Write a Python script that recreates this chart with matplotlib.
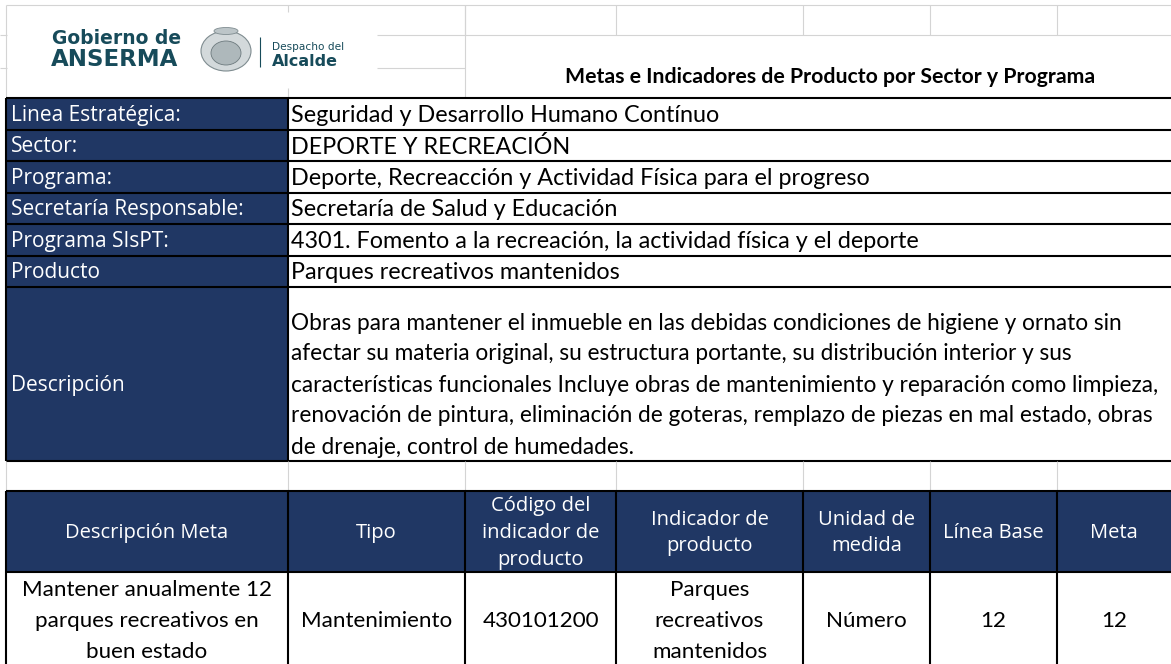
import matplotlib
matplotlib.use("Agg")
import matplotlib.pyplot as plt
from matplotlib.patches import Rectangle, Ellipse

# ---------------- content ----------------
title = "Metas e Indicadores de Producto por Sector y Programa"
info_labels = ["Linea Estratégica:", "Sector:", "Programa:", "Secretaría Responsable:",
               "Programa SIsPT:", "Producto"]
info_values = ["Seguridad y Desarrollo Humano Contínuo",
               "DEPORTE Y RECREACIÓN",
               "Deporte, Recreacción y Actividad Física para el progreso",
               "Secretaría de Salud y Educación",
               "4301. Fomento a la recreación, la actividad física y el deporte",
               "Parques recreativos mantenidos"]
desc_label = "Descripción"
desc_lines = ["Obras para mantener el inmueble en las debidas condiciones de higiene y ornato sin",
              "afectar su materia original, su estructura portante, su distribución interior y sus",
              "características funcionales Incluye obras de mantenimiento y reparación como limpieza,",
              "renovación de pintura, eliminación de goteras, remplazo de piezas en mal estado, obras",
              "de drenaje, control de humedades."]
header_cols = [["Descripción Meta"], ["Tipo"], ["Código del", "indicador de", "producto"],
               ["Indicador de", "producto"], ["Unidad de", "medida"], ["Línea Base"], ["Meta"]]
row_values = [["Mantener anualmente 12", "parques recreativos en", "buen estado"],
              ["Mantenimiento"], ["430101200"],
              ["Parques", "recreativos", "mantenidos"],
              ["Número"], ["12"], ["12"]]
logo_top, logo_bottom = "Gobierno de", "ANSERMA"
logo_small, logo_big = "Despacho del", "Alcalde"

# ---------------- layout ----------------
W, H = 1171, 664
col_x = [6, 288, 465, 616, 803, 930, 1057, W]
NAVY = "#203764"
GRID = "#d4d4d4"
TEAL = "#174b5a"
BODY = "Lato"
LABEL = "Open Sans"

fig = plt.figure(figsize=(W / 100, H / 100), dpi=100)
ax = fig.add_axes([0, 0, 1, 1])
ax.set_xlim(0, W)
ax.set_ylim(H, 0)
ax.axis("off")
renderer = fig.canvas.get_renderer()


def fit(text, family, target, weight="normal"):
    t = ax.text(0, 0, text, fontsize=10, family=family, weight=weight)
    w = t.get_window_extent(renderer).width
    t.remove()
    return 10 * target / w


def hline(y, x0, x1, color="black", lw=1.5):
    ax.plot([x0, x1], [y, y], color=color, lw=lw, solid_capstyle="butt", zorder=3)


def vline(x, y0, y1, color="black", lw=1.5):
    ax.plot([x, x], [y0, y1], color=color, lw=lw, solid_capstyle="butt", zorder=3)


def rect(x0, y0, x1, y1, fc):
    ax.add_patch(Rectangle((x0, y0), x1 - x0, y1 - y0, facecolor=fc, edgecolor="none", zorder=1))


fs_body = fit(info_values[0], BODY, 429)
fs_desc = fit(desc_lines[2], BODY, 866)
fs_data = fit(row_values[0][0], BODY, 249)
fs_label = 0.92 * fit(info_labels[0], LABEL, 185)
fs_head = 0.92 * fit(header_cols[0][0], LABEL, 177)
fs_title = fit(title, BODY, 530, "bold")

# ---- top grid (light) ----
hline(5, 6, W, GRID, 0.8)
vline(6, 5, 98, GRID, 0.8)
for x in col_x[2:-1]:
    vline(x, 5, 35, GRID, 0.8)
vline(288, 5, 12, GRID, 0.8)
vline(288, 88, 98, GRID, 0.8)
vline(465, 5, 98, GRID, 0.8)
hline(35, 377, W, GRID, 0.8)
hline(68, 377, 465, GRID, 0.8)
hline(35, 0, 7, GRID, 0.8)
hline(68, 0, 7, GRID, 0.8)

# ---- logo ----
ax.text(52, 44.5, logo_top, fontsize=13.5, family="DejaVu Sans", weight="semibold",
        color=TEAL, va="baseline", ha="left", zorder=4)
ax.text(51, 66, logo_bottom, fontsize=16.5, family="DejaVu Sans", weight="heavy",
        color=TEAL, va="baseline", ha="left", zorder=4)
ax.add_patch(Ellipse((226, 51), 50, 40, facecolor="#d3d9db", edgecolor="#7f8c90", lw=0.8, zorder=4))
ax.add_patch(Ellipse((226, 53), 30, 24, facecolor="#aeb8bb", edgecolor="#6d7a7e", lw=0.6, zorder=5))
ax.add_patch(Ellipse((226, 31), 24, 7, facecolor="#bcc5c8", edgecolor="#7f8c90", lw=0.6, zorder=5))
vline(260, 37, 67, TEAL, 0.8)
ax.text(272, 50, logo_small, fontsize=7.6, family="DejaVu Sans",
        color=TEAL, va="baseline", ha="left", zorder=4)
ax.text(272, 65.5, logo_big, fontsize=11.5, family="DejaVu Sans",
        weight="bold", color=TEAL, va="baseline", ha="left", zorder=4)

# ---- title ----
ax.text(830, 77, title, fontsize=fs_title, family=BODY, weight="bold", ha="center", va="center", zorder=4)

# ---- info table ----
top = 98
rh = 31.5
n = len(info_labels)
desc_top = top + n * rh
desc_bot = 461
rect(col_x[0], top, col_x[1], desc_bot, NAVY)
for i, (lab, val) in enumerate(zip(info_labels, info_values)):
    y0 = top + i * rh
    cy = y0 + rh / 2 + 1.5
    ax.text(11, cy, lab, fontsize=fs_label, family=LABEL, color="white", va="center", ha="left", zorder=4)
    ax.text(291, cy, val, fontsize=fs_body, family=BODY, color="black", va="center", ha="left", zorder=4)
    hline(y0, col_x[0], W)
hline(desc_top, col_x[0], W)
hline(desc_bot, col_x[0], W)
vline(col_x[0], top, desc_bot)
vline(col_x[1], top, desc_bot)
line_sp = 31
last_y = desc_bot - 14
for k, line in enumerate(desc_lines):
    y = last_y - (len(desc_lines) - 1 - k) * line_sp
    ax.text(291, y, line, fontsize=fs_desc, family=BODY, color="black", va="center", ha="left", zorder=4)
ax.text(11, last_y - 2 * line_sp, desc_label, fontsize=fs_label, family=LABEL, color="white",
        va="center", ha="left", zorder=4)

# ---- spacer row ----
h_top, h_bot = 491, 572
for x in col_x[:-1]:
    vline(x, desc_bot, h_top, GRID, 0.8)

# ---- header row ----
rect(col_x[0], h_top, W, h_bot, NAVY)
hline(h_top, col_x[0], W)
hline(h_bot, col_x[0], W)
for j, lines in enumerate(header_cols):
    cx = (col_x[j] + col_x[j + 1]) / 2
    cy = 533
    for k, line in enumerate(lines):
        y = cy + (k - (len(lines) - 1) / 2) * 26.5
        ax.text(cx, y, line, fontsize=fs_head, family=LABEL, color="white", ha="center", va="center", zorder=4)

# ---- data row ----
for j, lines in enumerate(row_values):
    cx = (col_x[j] + col_x[j + 1]) / 2
    cy = 621
    for k, line in enumerate(lines):
        y = cy + (k - (len(lines) - 1) / 2) * 31.5
        ax.text(cx, y, line, fontsize=fs_data, family=BODY, color="black", ha="center", va="center", zorder=4)
for x in col_x[:-1]:
    vline(x, h_top, H)

fig.savefig("out.png", dpi=100, facecolor="white")
